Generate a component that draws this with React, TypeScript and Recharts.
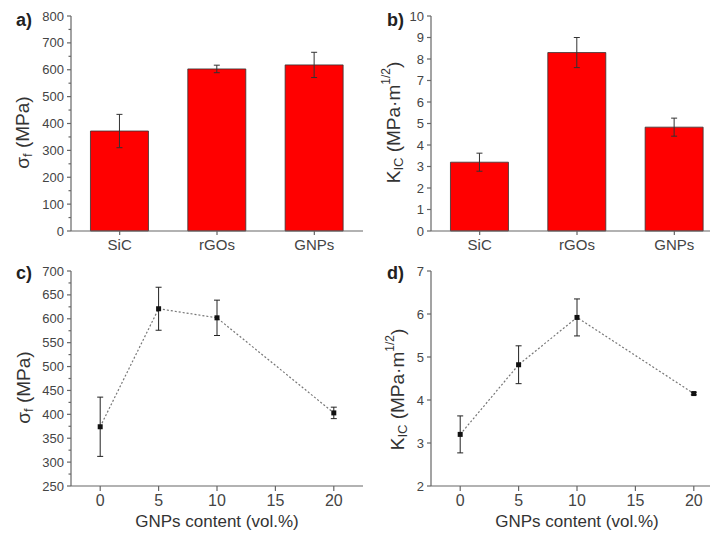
import { BarChart, Bar, LineChart, Line, XAxis, YAxis, ErrorBar } from "recharts";

const categories = ["SiC", "rGOs", "GNPs"];
const strengthBars = [372, 603, 618];
const strengthBarErr = [62, 14, 47];
const toughnessBars = [3.2, 8.3, 4.83];
const toughnessBarErr = [0.42, 0.7, 0.42];

const gnpContent = [0, 5, 10, 20];
const strengthLine = [374, 621, 602, 403];
const strengthLineErr = [62, 45, 37, 12];
const toughnessLine = [3.2, 4.82, 5.92, 4.15];
const toughnessLineErr = [0.43, 0.44, 0.43, 0.03];

const strengthBarTicks = [0, 100, 200, 300, 400, 500, 600, 700, 800];
const toughnessBarTicks = [0, 1, 2, 3, 4, 5, 6, 7, 8, 9, 10];
const strengthLineTicks = [250, 300, 350, 400, 450, 500, 550, 600, 650, 700];
const toughnessLineTicks = [2, 3, 4, 5, 6, 7];
const contentTicks = [0, 5, 10, 15, 20];

const FONT = '"Liberation Sans", Arial, sans-serif';
const AXIS = "#666";
const TEXT = "#444";
const TITLE = "#333";

const barRows = (vals: number[], errs: number[]) =>
  categories.map((name, i) => ({ name, value: vals[i], err: errs[i] }));
const lineRows = (vals: number[], errs: number[]) =>
  gnpContent.map((x, i) => ({ x, value: vals[i], err: errs[i] }));

// add minor ticks halfway between the major ones
const withMinor = (major: number[]) => {
  const out: number[] = [];
  major.forEach((t, i) => {
    out.push(t);
    if (i < major.length - 1) out.push((t + major[i + 1]) / 2);
  });
  return out;
};

const makeYTick = (major: number[]) => (props: any) => {
  const { x, y, payload } = props;
  const isMajor = major.includes(payload.value);
  return (
    <g>
      <line x1={x - (isMajor ? 4 : 2.5)} x2={x} y1={y} y2={y} stroke={AXIS} strokeWidth={1.2} />
      {isMajor && (
        <text x={x - 7} y={y} dy="0.35em" textAnchor="end" fontSize={13} fill={TEXT} fontFamily={FONT}>
          {payload.value}
        </text>
      )}
    </g>
  );
};

const yTitle = (cx: number, shift: number, content: any) => (props: any) => {
  const vb = props.viewBox || { y: 16, height: 215 };
  const cy = vb.y + vb.height / 2 + shift;
  return (
    <text
      x={cx}
      y={cy}
      transform={`rotate(-90 ${cx} ${cy})`}
      textAnchor="middle"
      dominantBaseline="central"
      fontSize={19}
      fill={TITLE}
      fontFamily={FONT}
    >
      {content}
    </text>
  );
};

const sigmaTitle = (
  <>
    σ<tspan dy={5} fontSize={13}>f</tspan>
    <tspan dy={-5}> (MPa)</tspan>
  </>
);
const kTitle = (
  <>
    K<tspan dy={5} fontSize={13}>IC</tspan>
    <tspan dy={-5}> (MPa·m</tspan>
    <tspan dy={-7} fontSize={12}>1/2</tspan>
    <tspan dy={7}>)</tspan>
  </>
);

const SquareDot = (props: any) => {
  const { cx, cy, index } = props;
  return <rect key={`d${index}`} x={cx - 2.5} y={cy - 2.5} width={5} height={5} fill="#111" />;
};

const W = 370;
const margin = { top: 16, right: 7, left: 0, bottom: 0 };

function Frame() {
  return (
    <>
      <XAxis xAxisId="top" orientation="top" height={0} tick={false} tickLine={false} stroke={AXIS} strokeWidth={1.2} />
      <YAxis yAxisId="right" orientation="right" width={0} tick={false} tickLine={false} stroke={AXIS} strokeWidth={1.2} />
    </>
  );
}

function BarPanel({ vals, errs, ticks, minor, titleX, shift, title }: any) {
  const allTicks = minor ? withMinor(ticks) : ticks;
  return (
    <BarChart width={W} height={260} data={barRows(vals, errs)} margin={margin} barCategoryGap="20%">
      <XAxis
        dataKey="name"
        stroke={AXIS}
        strokeWidth={1.2}
        tickSize={4}
        tickMargin={4}
        height={29}
        tick={{ fontSize: 15, fill: TEXT, fontFamily: FONT }}
      />
      <YAxis
        width={71}
        domain={[ticks[0], ticks[ticks.length - 1]]}
        ticks={allTicks}
        interval={0}
        tickSize={0}
        tickMargin={0}
        tickLine={false}
        stroke={AXIS}
        strokeWidth={1.2}
        tick={makeYTick(ticks)}
        label={yTitle(titleX, shift, title)}
      />
      {Frame()}
      <Bar dataKey="value" fill="#ff0000" stroke="#333" strokeWidth={0.8} isAnimationActive={false}>
        <ErrorBar dataKey="err" width={3} stroke="#333" strokeWidth={1} />
      </Bar>
    </BarChart>
  );
}

function LinePanel({ vals, errs, ticks, minor, titleX, shift, title }: any) {
  const allTicks = minor ? withMinor(ticks) : ticks;
  return (
    <LineChart width={W} height={288} data={lineRows(vals, errs)} margin={margin}>
      <XAxis
        dataKey="x"
        type="number"
        domain={[-2.5, 22.5]}
        ticks={contentTicks}
        interval={0}
        stroke={AXIS}
        strokeWidth={1.2}
        tickSize={5}
        tickMargin={4}
        height={57}
        tick={{ fontSize: 16, fill: TEXT, fontFamily: FONT }}
        label={{ value: "GNPs content (vol.%)", position: "insideBottom", offset: 16, fontSize: 17, fill: TITLE, fontFamily: FONT }}
      />
      <YAxis
        width={71}
        domain={[ticks[0], ticks[ticks.length - 1]]}
        ticks={allTicks}
        interval={0}
        tickSize={0}
        tickMargin={0}
        tickLine={false}
        stroke={AXIS}
        strokeWidth={1.2}
        tick={makeYTick(ticks)}
        label={yTitle(titleX, shift, title)}
      />
      {Frame()}
      <Line
        dataKey="value"
        type="linear"
        stroke="#777"
        strokeWidth={1.2}
        strokeDasharray="2 2"
        dot={SquareDot}
        activeDot={false}
        isAnimationActive={false}
      >
        <ErrorBar dataKey="err" direction="y" width={3} stroke="#222" strokeWidth={1} />
      </Line>
    </LineChart>
  );
}

const panelLabel = (text: string, left: number, top: number) => (
  <div
    style={{
      position: "absolute",
      left,
      top,
      fontSize: 18,
      lineHeight: "20px",
      fontWeight: "bold",
      color: "#222",
      fontFamily: FONT,
    }}
  >
    {text}
  </div>
);

export default function App() {
  return (
    <div style={{ position: "relative", width: 718, height: 543, overflow: "hidden", margin: -8, background: "#fff" }}>
      <div style={{ position: "absolute", left: 0, top: 0 }}>
        <BarPanel vals={strengthBars} errs={strengthBarErr} ticks={strengthBarTicks} minor titleX={22} shift={9} title={sigmaTitle} />
      </div>
      <div style={{ position: "absolute", left: 360, top: 0 }}>
        <BarPanel vals={toughnessBars} errs={toughnessBarErr} ticks={toughnessBarTicks} titleX={33} shift={-1} title={kTitle} />
      </div>
      <div style={{ position: "absolute", left: 0, top: 255 }}>
        <LinePanel vals={strengthLine} errs={strengthLineErr} ticks={strengthLineTicks} minor titleX={23} shift={9} title={sigmaTitle} />
      </div>
      <div style={{ position: "absolute", left: 360, top: 255 }}>
        <LinePanel vals={toughnessLine} errs={toughnessLineErr} ticks={toughnessLineTicks} titleX={37} shift={11} title={kTitle} />
      </div>
      {panelLabel("a)", 16, 10)}
      {panelLabel("b)", 387, 10)}
      {panelLabel("c)", 16, 263)}
      {panelLabel("d)", 387, 263)}
    </div>
  );
}
